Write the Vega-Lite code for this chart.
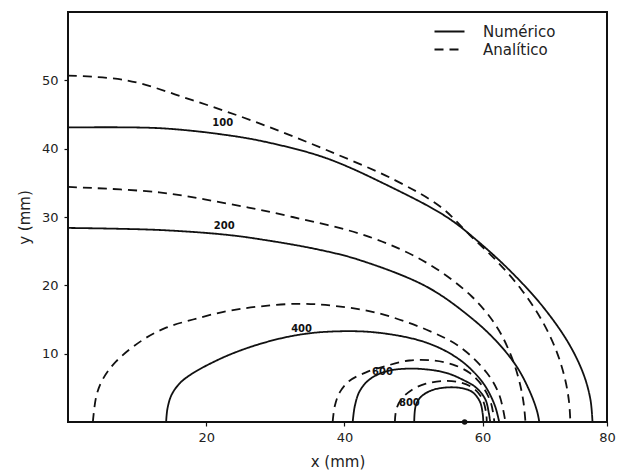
{
  "$schema": "https://vega.github.io/schema/vega-lite/v6.json",
  "width": 539,
  "height": 410,
  "autosize": {"type": "none"},
  "padding": {"left": 68, "top": 12, "right": 12, "bottom": 50},
  "background": "white",
  "config": {"view": {"stroke": "#111", "strokeWidth": 2}, "font": "DejaVu Sans"},
  "datasets": {
    "curves": [
      {"c":"N100","t":"Numérico","i":0,"x":0,"y":43.1},
      {"c":"N100","t":"Numérico","i":1,"x":13.2,"y":43.0},
      {"c":"N100","t":"Numérico","i":2,"x":22.9,"y":42.0},
      {"c":"N100","t":"Numérico","i":3,"x":29.0,"y":40.9},
      {"c":"N100","t":"Numérico","i":4,"x":37.4,"y":38.6},
      {"c":"N100","t":"Numérico","i":5,"x":46.5,"y":34.5},
      {"c":"N100","t":"Numérico","i":6,"x":54.8,"y":30.0},
      {"c":"N100","t":"Numérico","i":7,"x":59.6,"y":26.2},
      {"c":"N100","t":"Numérico","i":8,"x":64.3,"y":21.8},
      {"c":"N100","t":"Numérico","i":9,"x":68.7,"y":16.9},
      {"c":"N100","t":"Numérico","i":10,"x":72.4,"y":11.6},
      {"c":"N100","t":"Numérico","i":11,"x":74.6,"y":7.0},
      {"c":"N100","t":"Numérico","i":12,"x":75.6,"y":3.3},
      {"c":"N100","t":"Numérico","i":13,"x":75.9,"y":0},

      {"c":"A100","t":"Analítico","i":0,"x":0,"y":50.7},
      {"c":"A100","t":"Analítico","i":1,"x":8.5,"y":50.0},
      {"c":"A100","t":"Analítico","i":2,"x":18.0,"y":47.1},
      {"c":"A100","t":"Analítico","i":3,"x":27.7,"y":43.7},
      {"c":"A100","t":"Analítico","i":4,"x":37.4,"y":39.8},
      {"c":"A100","t":"Analítico","i":5,"x":47.3,"y":35.4},
      {"c":"A100","t":"Analítico","i":6,"x":53.9,"y":31.5},
      {"c":"A100","t":"Analítico","i":7,"x":58.1,"y":27.4},
      {"c":"A100","t":"Analítico","i":8,"x":62.0,"y":23.6},
      {"c":"A100","t":"Analítico","i":9,"x":65.6,"y":19.4},
      {"c":"A100","t":"Analítico","i":10,"x":68.5,"y":15.0},
      {"c":"A100","t":"Analítico","i":11,"x":70.6,"y":10.6},
      {"c":"A100","t":"Analítico","i":12,"x":71.9,"y":6.4},
      {"c":"A100","t":"Analítico","i":13,"x":72.5,"y":3.0},
      {"c":"A100","t":"Analítico","i":14,"x":72.7,"y":0},

      {"c":"N200","t":"Numérico","i":0,"x":0,"y":28.4},
      {"c":"N200","t":"Numérico","i":1,"x":13.2,"y":28.1},
      {"c":"N200","t":"Numérico","i":2,"x":22.9,"y":27.4},
      {"c":"N200","t":"Numérico","i":3,"x":28.7,"y":26.6},
      {"c":"N200","t":"Numérico","i":4,"x":36.4,"y":25.2},
      {"c":"N200","t":"Numérico","i":5,"x":42.2,"y":23.7},
      {"c":"N200","t":"Numérico","i":6,"x":51.9,"y":19.8},
      {"c":"N200","t":"Numérico","i":7,"x":58.4,"y":15.2},
      {"c":"N200","t":"Numérico","i":8,"x":62.2,"y":11.6},
      {"c":"N200","t":"Numérico","i":9,"x":65.0,"y":8.0},
      {"c":"N200","t":"Numérico","i":10,"x":66.9,"y":4.3},
      {"c":"N200","t":"Numérico","i":11,"x":67.9,"y":1.5},
      {"c":"N200","t":"Numérico","i":12,"x":68.2,"y":0},

      {"c":"A200","t":"Analítico","i":0,"x":0,"y":34.4},
      {"c":"A200","t":"Analítico","i":1,"x":13.2,"y":33.6},
      {"c":"A200","t":"Analítico","i":2,"x":22.9,"y":32.0},
      {"c":"A200","t":"Analítico","i":3,"x":32.5,"y":30.0},
      {"c":"A200","t":"Analítico","i":4,"x":43.6,"y":27.1},
      {"c":"A200","t":"Analítico","i":5,"x":51.9,"y":23.3},
      {"c":"A200","t":"Analítico","i":6,"x":58.4,"y":18.4},
      {"c":"A200","t":"Analítico","i":7,"x":62.0,"y":14.0},
      {"c":"A200","t":"Analítico","i":8,"x":64.0,"y":10.0},
      {"c":"A200","t":"Analítico","i":9,"x":65.2,"y":6.4},
      {"c":"A200","t":"Analítico","i":10,"x":65.9,"y":3.0},
      {"c":"A200","t":"Analítico","i":11,"x":66.2,"y":0},

      {"c":"N400","t":"Numérico","i":0,"x":14.2,"y":0},
      {"c":"N400","t":"Numérico","i":1,"x":14.4,"y":2.0},
      {"c":"N400","t":"Numérico","i":2,"x":15.0,"y":4.0},
      {"c":"N400","t":"Numérico","i":3,"x":16.2,"y":5.7},
      {"c":"N400","t":"Numérico","i":4,"x":18.0,"y":7.1},
      {"c":"N400","t":"Numérico","i":5,"x":20.5,"y":8.5},
      {"c":"N400","t":"Numérico","i":6,"x":23.5,"y":9.9},
      {"c":"N400","t":"Numérico","i":7,"x":27.7,"y":11.4},
      {"c":"N400","t":"Numérico","i":8,"x":32.5,"y":12.6},
      {"c":"N400","t":"Numérico","i":9,"x":37.4,"y":13.2},
      {"c":"N400","t":"Numérico","i":10,"x":44.6,"y":13.1},
      {"c":"N400","t":"Numérico","i":11,"x":51.9,"y":11.6},
      {"c":"N400","t":"Numérico","i":12,"x":56.7,"y":9.1},
      {"c":"N400","t":"Numérico","i":13,"x":60.0,"y":5.8},
      {"c":"N400","t":"Numérico","i":14,"x":61.7,"y":2.6},
      {"c":"N400","t":"Numérico","i":15,"x":62.4,"y":0},

      {"c":"A400","t":"Analítico","i":0,"x":3.6,"y":0},
      {"c":"A400","t":"Analítico","i":1,"x":4.1,"y":3.8},
      {"c":"A400","t":"Analítico","i":2,"x":5.0,"y":6.2},
      {"c":"A400","t":"Analítico","i":3,"x":7.0,"y":8.9},
      {"c":"A400","t":"Analítico","i":4,"x":10.8,"y":12.0},
      {"c":"A400","t":"Analítico","i":5,"x":14.2,"y":13.8},
      {"c":"A400","t":"Analítico","i":6,"x":18.1,"y":15.0},
      {"c":"A400","t":"Analítico","i":7,"x":22.9,"y":16.2},
      {"c":"A400","t":"Analítico","i":8,"x":27.7,"y":16.9},
      {"c":"A400","t":"Analítico","i":9,"x":33.5,"y":17.3},
      {"c":"A400","t":"Analítico","i":10,"x":38.5,"y":17.0},
      {"c":"A400","t":"Analítico","i":11,"x":44.6,"y":16.0},
      {"c":"A400","t":"Analítico","i":12,"x":51.9,"y":13.5},
      {"c":"A400","t":"Analítico","i":13,"x":56.7,"y":11.0},
      {"c":"A400","t":"Analítico","i":14,"x":60.6,"y":7.2},
      {"c":"A400","t":"Analítico","i":15,"x":62.4,"y":4.0},
      {"c":"A400","t":"Analítico","i":16,"x":63.3,"y":0},

      {"c":"N600","t":"Numérico","i":0,"x":41.2,"y":0},
      {"c":"N600","t":"Numérico","i":1,"x":41.5,"y":2.3},
      {"c":"N600","t":"Numérico","i":2,"x":42.2,"y":4.5},
      {"c":"N600","t":"Numérico","i":3,"x":43.6,"y":6.2},
      {"c":"N600","t":"Numérico","i":4,"x":46.0,"y":7.4},
      {"c":"N600","t":"Numérico","i":5,"x":48.9,"y":7.8},
      {"c":"N600","t":"Numérico","i":6,"x":51.8,"y":7.7},
      {"c":"N600","t":"Numérico","i":7,"x":54.7,"y":7.2},
      {"c":"N600","t":"Numérico","i":8,"x":57.1,"y":6.2},
      {"c":"N600","t":"Numérico","i":9,"x":59.1,"y":5.0},
      {"c":"N600","t":"Numérico","i":10,"x":60.4,"y":3.3},
      {"c":"N600","t":"Numérico","i":11,"x":60.9,"y":1.3},
      {"c":"N600","t":"Numérico","i":12,"x":61.1,"y":0},

      {"c":"A600","t":"Analítico","i":0,"x":38.3,"y":0},
      {"c":"A600","t":"Analítico","i":1,"x":38.6,"y":2.3},
      {"c":"A600","t":"Analítico","i":2,"x":39.3,"y":4.3},
      {"c":"A600","t":"Analítico","i":3,"x":40.7,"y":6.0},
      {"c":"A600","t":"Analítico","i":4,"x":43.2,"y":7.3},
      {"c":"A600","t":"Analítico","i":5,"x":46.0,"y":8.2},
      {"c":"A600","t":"Analítico","i":6,"x":49.4,"y":9.0},
      {"c":"A600","t":"Analítico","i":7,"x":52.8,"y":9.0},
      {"c":"A600","t":"Analítico","i":8,"x":55.7,"y":8.4},
      {"c":"A600","t":"Analítico","i":9,"x":58.1,"y":7.2},
      {"c":"A600","t":"Analítico","i":10,"x":60.0,"y":5.2},
      {"c":"A600","t":"Analítico","i":11,"x":61.2,"y":2.8},
      {"c":"A600","t":"Analítico","i":12,"x":61.7,"y":0},

      {"c":"N800","t":"Numérico","i":0,"x":50.1,"y":0},
      {"c":"N800","t":"Numérico","i":1,"x":50.3,"y":2.3},
      {"c":"N800","t":"Numérico","i":2,"x":50.9,"y":3.5},
      {"c":"N800","t":"Numérico","i":3,"x":52.3,"y":4.5},
      {"c":"N800","t":"Numérico","i":4,"x":54.2,"y":5.0},
      {"c":"N800","t":"Numérico","i":5,"x":56.7,"y":5.0},
      {"c":"N800","t":"Numérico","i":6,"x":58.5,"y":4.4},
      {"c":"N800","t":"Numérico","i":7,"x":59.6,"y":3.0},
      {"c":"N800","t":"Numérico","i":8,"x":60.0,"y":1.3},
      {"c":"N800","t":"Numérico","i":9,"x":60.1,"y":0},

      {"c":"A800","t":"Analítico","i":0,"x":47.3,"y":0},
      {"c":"A800","t":"Analítico","i":1,"x":47.5,"y":1.8},
      {"c":"A800","t":"Analítico","i":2,"x":48.2,"y":3.3},
      {"c":"A800","t":"Analítico","i":3,"x":49.9,"y":4.8},
      {"c":"A800","t":"Analítico","i":4,"x":51.8,"y":5.6},
      {"c":"A800","t":"Analítico","i":5,"x":54.2,"y":6.0},
      {"c":"A800","t":"Analítico","i":6,"x":56.7,"y":5.8},
      {"c":"A800","t":"Analítico","i":7,"x":58.6,"y":5.0},
      {"c":"A800","t":"Analítico","i":8,"x":59.9,"y":3.5},
      {"c":"A800","t":"Analítico","i":9,"x":60.5,"y":1.4},
      {"c":"A800","t":"Analítico","i":10,"x":60.6,"y":0}
    ],
    "labels": [
      {"v":"100","x":22.4,"y":43.7},
      {"v":"200","x":22.6,"y":28.7},
      {"v":"400","x":33.8,"y":13.6},
      {"v":"600","x":45.5,"y":7.3},
      {"v":"800","x":49.4,"y":2.8}
    ],
    "dot": [{"x":57.4,"y":0}]
  },
  "layer": [
    {
      "data": {"name": "curves"},
      "mark": {"type": "line", "interpolate": "catmull-rom", "color": "#111", "strokeWidth": 1.8},
      "encoding": {
        "x": {"field": "x", "type": "quantitative",
              "scale": {"domain": [0, 78], "nice": false, "zero": false},
              "axis": {"title": "x (mm)", "values": [20, 40, 60, 78],
                       "labelExpr": "datum.value >= 78 ? '80' : datum.label",
                       "labelFlush": false, "domain": false, "grid": false,
                       "tickSize": 4, "tickColor": "#111", "tickWidth": 1.2,
                       "labelFontSize": 13, "labelColor": "#222", "labelPadding": 5,
                       "titleFontSize": 15, "titleFontWeight": "normal", "titleColor": "#222", "titlePadding": 10}},
        "y": {"field": "y", "type": "quantitative",
              "scale": {"domain": [0, 60], "nice": false},
              "axis": {"title": "y (mm)", "values": [10, 20, 30, 40, 50],
                       "domain": false, "grid": false,
                       "tickSize": 4, "tickColor": "#111", "tickWidth": 1.2,
                       "labelFontSize": 13, "labelColor": "#222", "labelPadding": 6,
                       "titleFontSize": 15, "titleFontWeight": "normal", "titleColor": "#222", "titlePadding": 9}},
        "detail": {"field": "c", "type": "nominal"},
        "order": {"field": "i", "type": "quantitative"},
        "strokeDash": {"field": "t", "type": "nominal",
                       "scale": {"domain": ["Numérico", "Analítico"], "range": [[1, 0], [9, 6]]},
                       "legend": {"title": null, "orient": "none", "legendX": 374, "legendY": 12,
                                  "symbolType": "M-3,0H3", "symbolSize": 100, "symbolStrokeWidth": 1.8,
                                  "symbolStrokeColor": "#111", "labelFontSize": 15, "labelColor": "#222",
                                  "labelOffset": 26, "padding": 0, "rowPadding": 2}}
      }
    },
    {
      "data": {"name": "labels"},
      "mark": {"type": "text", "fontSize": 10, "fontWeight": "bold", "color": "#111", "align": "center", "baseline": "middle"},
      "encoding": {
        "x": {"field": "x", "type": "quantitative"},
        "y": {"field": "y", "type": "quantitative"},
        "text": {"field": "v", "type": "nominal"}
      }
    },
    {
      "data": {"name": "dot"},
      "mark": {"type": "point", "filled": true, "color": "#111", "size": 30, "opacity": 1},
      "encoding": {
        "x": {"field": "x", "type": "quantitative"},
        "y": {"field": "y", "type": "quantitative"}
      }
    }
  ]
}
